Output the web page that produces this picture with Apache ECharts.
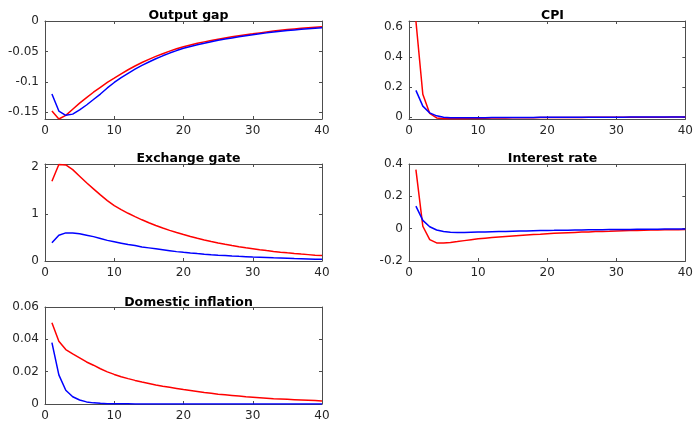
<!DOCTYPE html>
<html>
<head>
<meta charset="utf-8">
<script src="https://cdn.jsdelivr.net/npm/echarts@6/dist/echarts.min.js"></script>
<style>html,body{margin:0;padding:0;background:#fff}#c{width:696px;height:422px}</style>
</head>
<body>
<div id="c"></div>
<script>
const periods = [1,2,3,4,5,6,7,8,9,10,11,12,13,14,15,16,17,18,19,20,21,22,23,24,25,26,27,28,29,30,31,32,33,34,35,36,37,38,39,40];
const xTicks = [0,10,20,30,40];

const titles = ["Output gap","CPI","Exchange gate","Interest rate","Domestic inflation"];

const outputGapRed = [-0.148,-0.161,-0.155,-0.145,-0.135,-0.126,-0.117,-0.109,-0.101,-0.094,-0.0868,-0.0801,-0.0739,-0.0682,-0.063,-0.0581,-0.0537,-0.0495,-0.0457,-0.0422,-0.0394,-0.0367,-0.0343,-0.032,-0.0298,-0.0278,-0.026,-0.0242,-0.0226,-0.0211,-0.0195,-0.0179,-0.0165,-0.0153,-0.0141,-0.013,-0.012,-0.011,-0.0102,-0.0094];
const outputGapBlue = [-0.120,-0.148,-0.155,-0.153,-0.146,-0.138,-0.129,-0.120,-0.110,-0.101,-0.0931,-0.0859,-0.0792,-0.073,-0.0673,-0.062,-0.0572,-0.0527,-0.0486,-0.0448,-0.0418,-0.0391,-0.0365,-0.0341,-0.0318,-0.0297,-0.0278,-0.0259,-0.0242,-0.0226,-0.021,-0.0195,-0.0182,-0.0169,-0.0157,-0.0146,-0.0136,-0.0127,-0.0118,-0.011];

const cpiRed = [0.64,0.152,0.024,-0.006,-0.011,-0.012,-0.012,-0.011,-0.010,-0.009,-0.008,-0.007,-0.0065,-0.006,-0.0055,-0.005,-0.0045,-0.004,-0.0037,-0.0034,-0.0031,-0.0028,-0.0026,-0.0024,-0.0022,-0.002,-0.0018,-0.0016,-0.0015,-0.0014,-0.0012,-0.0011,-0.001,-0.0009,-0.0008,-0.0007,-0.0006,-0.0005,-0.0004,-0.0003];
const cpiBlue = [0.178,0.073,0.028,0.008,-0.001,-0.004,-0.005,-0.005,-0.005,-0.0045,-0.004,-0.0037,-0.0034,-0.0031,-0.0028,-0.0026,-0.0024,-0.0022,-0.002,-0.0018,-0.0016,-0.0015,-0.0014,-0.0013,-0.0012,-0.0011,-0.001,-0.0009,-0.0008,-0.0007,-0.0006,-0.0005,-0.0004,-0.0004,-0.0003,-0.0003,-0.0002,-0.0002,-0.0001,-0.0001];

const exchangeRed = [1.70,2.06,2.05,1.95,1.81,1.67,1.54,1.41,1.29,1.18,1.096,1.018,0.946,0.879,0.816,0.758,0.704,0.654,0.608,0.565,0.523,0.484,0.449,0.416,0.385,0.357,0.33,0.306,0.283,0.262,0.241,0.222,0.205,0.189,0.174,0.16,0.147,0.136,0.125,0.115];
const exchangeBlue = [0.39,0.55,0.60,0.60,0.58,0.55,0.52,0.48,0.44,0.41,0.38,0.35,0.33,0.30,0.28,0.26,0.24,0.22,0.20,0.185,0.171,0.158,0.146,0.135,0.125,0.116,0.107,0.099,0.092,0.085,0.079,0.073,0.067,0.062,0.057,0.052,0.048,0.044,0.040,0.037];

const interestRed = [0.365,0.015,-0.068,-0.088,-0.089,-0.085,-0.080,-0.074,-0.068,-0.063,-0.059,-0.055,-0.051,-0.048,-0.045,-0.042,-0.039,-0.036,-0.034,-0.031,-0.029,-0.027,-0.025,-0.023,-0.021,-0.020,-0.018,-0.017,-0.016,-0.014,-0.013,-0.012,-0.011,-0.010,-0.009,-0.008,-0.007,-0.006,-0.006,-0.005];
const interestBlue = [0.139,0.051,0.012,-0.008,-0.018,-0.022,-0.023,-0.023,-0.022,-0.021,-0.02,-0.019,-0.018,-0.017,-0.016,-0.015,-0.014,-0.013,-0.012,-0.011,-0.0105,-0.0098,-0.0091,-0.0085,-0.0079,-0.0073,-0.0068,-0.0063,-0.0058,-0.0054,-0.005,-0.0046,-0.0042,-0.0038,-0.0034,-0.003,-0.0026,-0.0022,-0.0018,-0.0014];

const domesticRed = [0.0503,0.0388,0.0337,0.031,0.0285,0.026,0.024,0.0218,0.0199,0.0183,0.0169,0.0157,0.0146,0.0136,0.0127,0.0118,0.011,0.0103,0.0096,0.0089,0.0083,0.0077,0.0071,0.0066,0.0061,0.0057,0.0053,0.0049,0.0045,0.0042,0.0039,0.0036,0.0033,0.0031,0.0029,0.0027,0.0025,0.0023,0.0021,0.0019];
const domesticBlue = [0.038,0.018,0.0085,0.0045,0.0025,0.0013,0.0007,0.0004,0.0002,0.0001,0.0001,0.0001,0,0,0,0,0,0,0,0,0,0,0,0,0,0,0,0,0,0,0,0,0,0,0,0,0,0,0,0];

const panelSeries = [
  [outputGapRed, outputGapBlue],
  [cpiRed, cpiBlue],
  [exchangeRed, exchangeBlue],
  [interestRed, interestBlue],
  [domesticRed, domesticBlue]
];
const yRanges = [
  {min:-0.161, max:0, splitNumber:3},
  {min:-0.013, max:0.64, splitNumber:3},
  {min:0, max:2.07, interval:1},
  {min:-0.2, max:0.4, interval:0.2},
  {min:0, max:0.06, interval:0.02}
];
const layout = [
  {left:45, top:21, width:277, height:98, titleTop:4},
  {left:409, top:21, width:277, height:98, titleTop:4},
  {left:45, top:164, width:277, height:97, titleTop:147},
  {left:409, top:164, width:277, height:97, titleTop:147},
  {left:45, top:307, width:277, height:98, titleTop:291}
];

const FONT = 'DejaVu Sans';
const axisColor = '#4d4d4d';
const textColor = '#262626';

const grid = [], xAxis = [], yAxis = [], series = [], title = [];
layout.forEach((g, i) => {
  grid.push({left:g.left, top:g.top, width:g.width, height:g.height, containLabel:false});
  title.push({
    text: titles[i], left: g.left + g.width/2, top: g.titleTop, textAlign: 'center',
    textStyle: {fontFamily: FONT, fontWeight: 'bold', fontSize: 12.5, color: '#000'}
  });
  const xCommon = {
    type:'value', gridIndex:i, min:0, max:40, interval:10,
    axisLine:{show:true, onZero:false, lineStyle:{color:axisColor, width:1}},
    axisTick:{show:true, inside:true, length:3, lineStyle:{color:axisColor}},
    splitLine:{show:false}
  };
  xAxis.push(Object.assign({}, xCommon, {position:'bottom',
    axisLabel:{show:true, margin:6, fontFamily:FONT, fontSize:12, color:textColor}}));
  xAxis.push(Object.assign({}, xCommon, {position:'top', axisLabel:{show:false}}));
  const r = yRanges[i];
  const yCommon = Object.assign({
    type:'value', gridIndex:i,
    axisLine:{show:true, onZero:false, lineStyle:{color:axisColor, width:1}},
    axisTick:{show:true, inside:true, length:3, lineStyle:{color:axisColor}},
    splitLine:{show:false}
  }, r);
  yAxis.push(Object.assign({}, yCommon, {position:'left',
    axisLabel:{show:true, margin:6, fontFamily:FONT, fontSize:12, color:textColor,
      showMinLabel: (i>=3 || i==2), showMaxLabel: (i==0 || i==3 || i==4)}}));
  yAxis.push(Object.assign({}, yCommon, {position:'right', axisLabel:{show:false}}));
  const colors = ['#ff0000', '#0000ff'];
  panelSeries[i].forEach((arr, k) => {
    series.push({
      type:'line', xAxisIndex:2*i, yAxisIndex:2*i, showSymbol:false, silent:true, animation:false,
      lineStyle:{color:colors[k], width:1.5}, itemStyle:{color:colors[k]},
      data: periods.map((p, j) => [p, arr[j]]),
      z: k==0 ? 2 : 3
    });
  });
});

const chart = echarts.init(document.getElementById('c'), null, {renderer:'canvas'});
chart.setOption({animation:false, backgroundColor:'#fff', title, grid, xAxis, yAxis, series});
</script>
</body>
</html>
